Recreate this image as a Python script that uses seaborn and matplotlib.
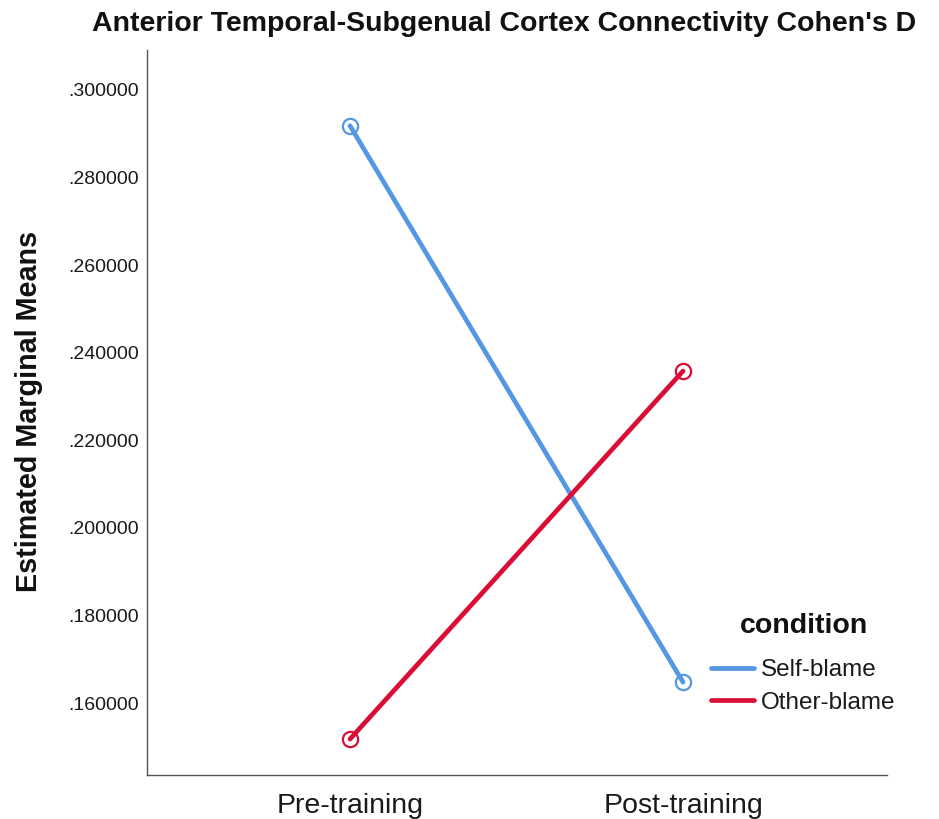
import matplotlib
matplotlib.use("Agg")
import matplotlib.pyplot as plt
from matplotlib.lines import Line2D
from matplotlib.ticker import FuncFormatter
import seaborn as sns
import pandas as pd

times = ["Pre-training", "Post-training"]
conditions = ["Self-blame", "Other-blame"]
self_blame = [0.2918, 0.1648]
other_blame = [0.1518, 0.2358]
yticks = [0.16, 0.18, 0.20, 0.22, 0.24, 0.26, 0.28, 0.30]

colors = {"Self-blame": "#5497E3", "Other-blame": "#D90D35"}

df = pd.DataFrame({
    "time": times * 2,
    "condition": [conditions[0]] * 2 + [conditions[1]] * 2,
    "mean": self_blame + other_blame,
})

sns.set_style("white")
plt.rcParams["font.family"] = ["Liberation Sans", "DejaVu Sans"]

fig = plt.figure(figsize=(9.39, 8.19), dpi=100)
ax = fig.add_axes([147/939, 1-775/819, (887-147)/939, (775-50)/819])

sns.lineplot(data=df, x="time", y="mean", hue="condition", palette=colors,
             hue_order=conditions, marker="o", markersize=11, markerfacecolor="none",
             markeredgewidth=1.6, linewidth=3.4, legend=False, ax=ax)
for ln in ax.lines:
    ln.set_markeredgecolor(ln.get_color())

ax.set_xlim(-0.6096, 1.6126)
ax.set_ylim(0.1436, 0.3091)
ax.set_yticks(yticks)
ax.yaxis.set_major_formatter(FuncFormatter(lambda v, p: f"{v:.6f}"[1:]))
ax.tick_params(axis="both", length=0)
ax.tick_params(axis="y", labelsize=14, pad=6, colors="#1a1a1a")
ax.tick_params(axis="x", labelsize=20.5, pad=13, colors="#1a1a1a")
for s in ["top", "right"]:
    ax.spines[s].set_visible(False)
for s in ["left", "bottom"]:
    ax.spines[s].set_color("#555555")
    ax.spines[s].set_linewidth(1.0)
ax.set_xlabel("")
ax.set_ylabel("Estimated Marginal Means", fontsize=20.7, fontweight="bold", color="#111111")
ax.yaxis.set_label_coords(43/939, 1-412/819, transform=fig.transFigure)

fig.text(504/939, 1-24/819, "Anterior Temporal-Subgenual Cortex Connectivity Cohen's D",
         ha="center", va="center", fontsize=20.5, fontweight="bold", color="#111111")

handles = [Line2D([], [], color=colors[c], linewidth=3.4) for c in conditions]
leg = ax.legend(handles, conditions, loc="upper left",
                bbox_to_anchor=(711/939, 1-659/819), bbox_transform=fig.transFigure,
                frameon=False, fontsize=17.5, handlelength=1.75, handletextpad=0.3,
                labelspacing=0.435, borderpad=0, borderaxespad=0)
for t in leg.get_texts():
    t.set_color("#1a1a1a")
fig.text(804/939, 1-626/819, "condition", ha="center", va="center",
         fontsize=20.5, fontweight="bold", color="#111111")

fig.savefig("out.png", dpi=100)
